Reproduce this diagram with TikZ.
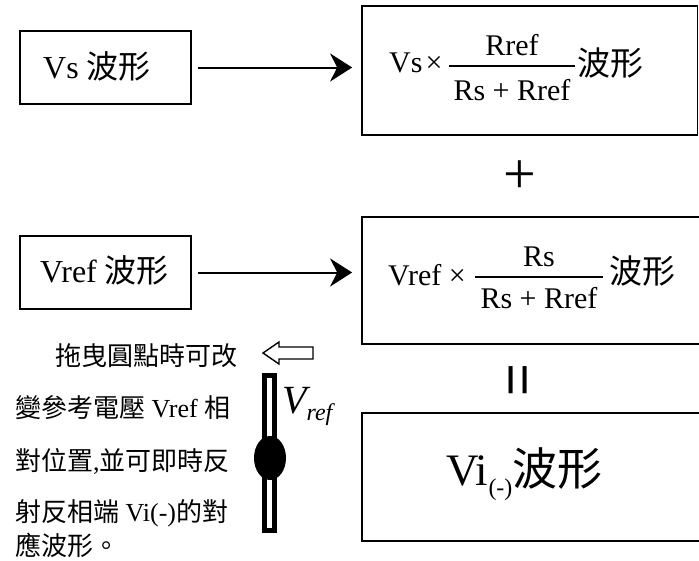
\RequirePackage{fix-cm}
\documentclass[tikz,border=0pt]{standalone}
\usepackage{fontspec}
\setmainfont{Liberation Serif}
\newfontfamily\cjk{Noto Sans CJK TC}
\newfontfamily\sansf{Liberation Sans}
\usetikzlibrary{arrows.meta}
\tikzset{
  box/.style={draw, line width=1.7pt, inner sep=0pt},
  txt/.style={inner sep=0pt, anchor=base west},
  ctr/.style={inner sep=0pt, anchor=base},
  arr/.style={line width=2pt, -{Stealth[length=22pt, width=28pt, inset=7pt]}},
  fracline/.style={line width=1.3pt},
  fA/.style={font=\fontsize{32pt}{36pt}\selectfont},
  fB/.style={font=\fontsize{30pt}{34pt}\selectfont},
  fC/.style={font=\fontsize{45pt}{50pt}\selectfont},
  fL/.style={font=\fontsize{26pt}{30pt}\selectfont},
}
\begin{document}
\begin{tikzpicture}[x=1pt, y=-1pt]
\useasboundingbox (0,0) rectangle (699,560);
% boxes
\node[box, minimum width=171pt, minimum height=73pt] (vsbox) at (105.5,67.5) {};
\node[box, minimum width=335.5pt, minimum height=129pt] (sumA) at (529.75,70.5) {};
\node[box, minimum width=171pt, minimum height=73pt] (vrefbox) at (105.5,272.5) {};
\node[box, minimum width=358pt, minimum height=127pt] (sumB) at (541,280.5) {};
\node[box, minimum width=358pt, minimum height=128pt] (result) at (541,477) {};
% box texts
\node[txt, fA] (vstext) at (43,78) {Vs {\cjk 波形}};
\node[txt, fA] (vreftext) at (40,282) {Vref {\cjk 波形}};
% formula A
\node[txt, fB] (fa1) at (389,72) {Vs\hspace{3pt}×};
\node[ctr, fB] (fan) at (512,55) {Rref};
\node[ctr, fB] (fad) at (512,100) {Rs + Rref};
\draw[fracline] (449,66) -- (575,66);
\node[txt, font=\fontsize{33pt}{36pt}\selectfont\cjk] (faw) at (577,75) {波形};
% formula B
\node[txt, fB] (fb1) at (388,285) {Vref ×};
\node[ctr, fB] (fbn) at (539,266) {Rs};
\node[ctr, fB] (fbd) at (539,308) {Rs + Rref};
\draw[fracline] (475,277) -- (603,277);
\node[txt, font=\fontsize{33pt}{36pt}\selectfont\cjk] (fbw) at (609,283) {波形};
% result
\node[txt, fC] (restext) at (446,485) {Vi\raisebox{-10pt}{\fontsize{24pt}{26pt}\selectfont(-)}{\cjk 波形}};
% plus and equals
\node[inner sep=0pt, font=\fontsize{58pt}{60pt}\selectfont] (plus) at (520,177) {+};
\node[inner sep=0pt, rotate=90, font=\fontsize{56pt}{60pt}\selectfont\sansf] (equals) at (523,380) {=};
% arrows
\draw[arr, shorten <=6pt, shorten >=9pt] (vsbox.east) -- (vsbox.east -| sumA.west);
\draw[arr, shorten <=6pt, shorten >=9pt] (vrefbox.east) -- (vrefbox.east -| sumB.west);
% explanatory text
\node[txt, fL] (t1) at (55,365) {\cjk 拖曳圓點時可改};
\node[txt, fL] (t2) at (15,417) {{\cjk 變參考電壓} Vref {\cjk 相}};
\node[txt, fL] (t3) at (15,470) {{\cjk 對位置},{\cjk 並可即時反}};
\node[txt, fL] (t4) at (15,521) {{\cjk 射反相端} Vi(-){\cjk 的對}};
\node[txt, fL] (t5) at (15,555) {\cjk 應波形。};
% hollow arrow
\draw[line width=1.4pt, fill=white] (263,353) -- (279,342) -- (279,347) -- (313,347) -- (313,359) -- (279,359) -- (279,364) -- cycle;
% slider
\fill (262,373) rectangle (277,533);
\fill[white] (267,378) rectangle (272,528);
\fill (270,458) ellipse [x radius=16pt, y radius=22pt];
\node[txt, font=\fontsize{40pt}{44pt}\selectfont\itshape] (vreflabel) at (282,413) {V\raisebox{-7pt}{\fontsize{24pt}{26pt}\selectfont ref}};
\end{tikzpicture}
\end{document}
